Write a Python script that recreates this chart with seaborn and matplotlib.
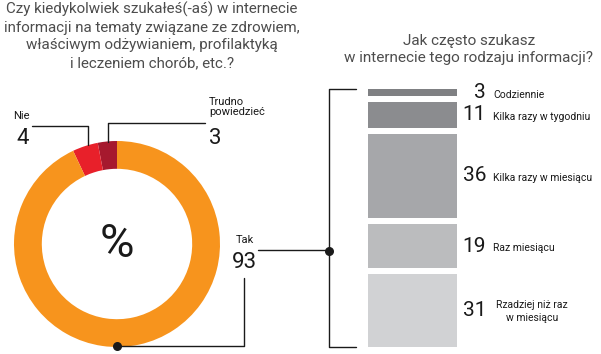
"""Donut + stacked bar: searching for health information online."""

import matplotlib
matplotlib.use("Agg")
import matplotlib.pyplot as plt
import numpy as np
import seaborn as sns

# --- data -------------------------------------------------------------
pie_labels = ["Trudno\npowiedzieć", "Nie", "Tak"]
pie_values = [3, 4, 93]
pie_colors = ["#a6192e", "#e8202a", "#f7941d"]

freq_labels = ["Codziennie", "Kilka razy w tygodniu", "Kilka razy w miesiącu",
               "Raz miesiącu", "Rzadziej niż raz\nw miesiącu"]
freq_values = [3, 11, 36, 19, 31]
freq_colors = ["#7f8083", "#8b8c8f", "#a6a7aa", "#bbbcbe", "#d1d2d4"]

title_left = ("Czy kiedykolwiek szukałeś(-aś) w internecie\n"
              "informacji na tematy związane ze zdrowiem,\n"
              "właściwym odżywianiem, profilaktyką\n"
              "i leczeniem chorób, etc.?")
title_right = "Jak często szukasz\nw internecie tego rodzaju informacji?"

sns.set_theme(style="white")
plt.rcParams["font.family"] = ["Roboto", "DejaVu Sans"]

W, H = 601, 354
fig = plt.figure(figsize=(W / 100, H / 100), dpi=100)


def px_axes(x0, y0, x1, y1):
    # axes from pixel box (top-left origin)
    return fig.add_axes([x0 / W, 1 - y1 / H, (x1 - x0) / W, (y1 - y0) / H])


# donut
cx, cy, r = 117, 244, 103
ax_pie = px_axes(cx - r, cy - r, cx + r, cy + r)
ax_pie.pie(pie_values, colors=pie_colors, startangle=90, counterclock=True,
           radius=1, wedgeprops=dict(width=0.27, linewidth=0))
ax_pie.set_xlim(-1, 1)
ax_pie.set_ylim(-1, 1)

# stacked bar with white gaps
gap = 2.56
ax_bar = px_axes(368, 89, 457, 347)
bottoms = np.cumsum([0] + freq_values[:-1]) + gap * np.arange(len(freq_values))
for v, b, c in zip(freq_values, bottoms, freq_colors):
    sns.barplot(x=[0], y=[v], bottom=b, width=1, color=c, ax=ax_bar,
                linewidth=0, saturation=1)
ax_bar.set_ylim(sum(freq_values) + gap * (len(freq_values) - 1), 0)
ax_bar.set_xlim(-0.5, 0.5)
ax_bar.axis("off")

# overlay in pixel coordinates
ov = fig.add_axes([0, 0, 1, 1])
ov.set_xlim(0, W)
ov.set_ylim(H, 0)
ov.axis("off")
ov.patch.set_alpha(0)

ink = "#1a1a1a"
ov.text(152, 2, title_left, ha="center", va="top", fontsize=10.9,
        color="#4d4d4d", linespacing=1.32)
ov.text(469, 34, title_right, ha="center", va="top", fontsize=11,
        color="#4d4d4d", linespacing=1.3)

# donut labels
ov.plot([32, 88, 88], [126, 126, 145], color=ink, lw=1)
ov.text(13, 116, pie_labels[1], fontsize=8, color=ink, va="center")
ov.text(16, 138, str(pie_values[1]), fontsize=16, color=ink, va="center")
ov.plot([108, 108, 205], [142, 123, 123], color=ink, lw=1)
ov.text(209, 107, pie_labels[0], fontsize=8, color=ink, va="center",
        linespacing=1.1)
ov.text(209, 138, str(pie_values[0]), fontsize=16, color=ink, va="center")
ov.text(236, 240, "Tak", fontsize=8, color=ink, va="center")
ov.text(232, 262, str(pie_values[2]), fontsize=16, color=ink, va="center")
ov.text(cx, cy, "%", fontsize=34, color=ink, ha="center", va="center")

# connectors
ov.plot([244, 244, cx], [278, 346, 346], color=ink, lw=1)
ov.plot([258, 329], [250, 250], color=ink, lw=1)
ov.plot([356, 329, 329, 356], [89, 89, 347, 347], color=ink, lw=1)
ov.scatter([cx, 329], [346, 251], s=30, color=ink, zorder=5)

# bar labels
px_per = 234 / sum(freq_values)
for v, b, lab in zip(freq_values, bottoms, freq_labels):
    yc = 89 + (b + v / 2) * px_per
    ov.text(486, yc, str(v), fontsize=15, color=ink, ha="right", va="center")
    if "\n" in lab:
        ov.text(532, yc + 1, lab, fontsize=7.5, color=ink, ha="center",
                va="center", linespacing=1.3)
    else:
        ov.text(493, yc + 2, lab, fontsize=7.5, color=ink, ha="left",
                va="center")

fig.savefig("out.png", dpi=100)
